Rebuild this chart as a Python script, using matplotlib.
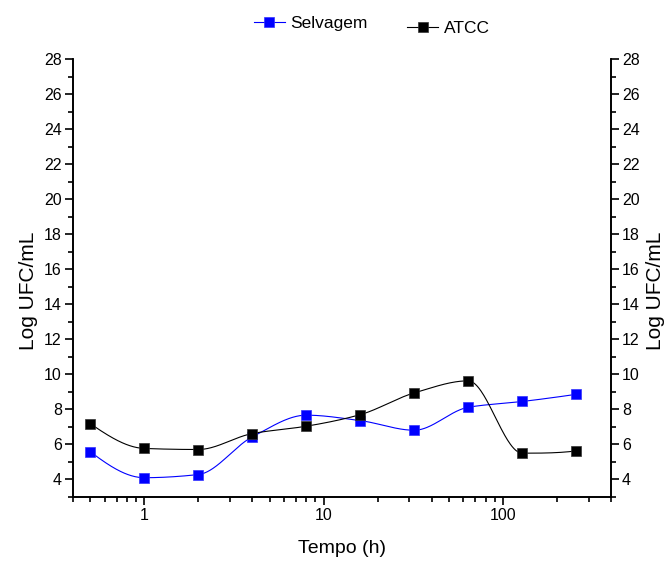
import numpy as np
import matplotlib.pyplot as plt
from matplotlib.ticker import MultipleLocator, FixedLocator, LogLocator, NullFormatter

plt.rcParams['font.family'] = ['Liberation Sans', 'DejaVu Sans']

tempo = [0.5, 1, 2, 4, 8, 16, 32, 64, 128, 256]
selvagem = [5.58, 4.10, 4.28, 6.43, 7.67, 7.36, 6.81, 8.12, 8.45, 8.86]
atcc = [7.18, 5.77, 5.71, 6.62, 7.04, 7.70, 8.94, 9.63, 5.50, 5.63]


def spline(x, y, n=60):
    # shape-preserving cubic (pchip) through the points, in log10(time)
    t = np.log10(np.asarray(x, float))
    v = np.asarray(y, float)
    h = np.diff(t)
    d = np.diff(v) / h
    m = np.zeros(len(t))
    for i in range(1, len(t) - 1):
        if d[i - 1] * d[i] > 0:
            w1 = 2 * h[i] + h[i - 1]
            w2 = h[i] + 2 * h[i - 1]
            m[i] = (w1 + w2) / (w1 / d[i - 1] + w2 / d[i])

    def end(h0, h1, d0, d1):
        e = ((2 * h0 + h1) * d0 - h0 * d1) / (h0 + h1)
        if np.sign(e) != np.sign(d0):
            return 0.0
        if np.sign(d0) != np.sign(d1) and abs(e) > 3 * abs(d0):
            return 3 * d0
        return e

    m[0] = end(h[0], h[1], d[0], d[1])
    m[-1] = end(h[-1], h[-2], d[-1], d[-2])
    xs, ys = [], []
    for i in range(len(t) - 1):
        u = np.linspace(0, 1, n)
        h00 = 2 * u ** 3 - 3 * u ** 2 + 1
        h10 = u ** 3 - 2 * u ** 2 + u
        h01 = -2 * u ** 3 + 3 * u ** 2
        h11 = u ** 3 - u ** 2
        xs.append(t[i] + u * h[i])
        ys.append(h00 * v[i] + h10 * h[i] * m[i] + h01 * v[i + 1] + h11 * h[i] * m[i + 1])
    return 10 ** np.concatenate(xs), np.concatenate(ys)


fig = plt.figure(figsize=(6.67, 5.62), dpi=100)
ax = fig.add_axes([0.1094, 0.1157, 0.8066, 0.7793])

blue = '#0000ff'
mk = dict(marker='s', ms=6.5, mew=0.5)

xs, ys = spline(tempo, selvagem)
ax.plot(xs, ys, color=blue, lw=0.8)
ax.plot(tempo, selvagem, ls='none', color=blue, mec='#3333ff', **mk)
xs, ys = spline(tempo, atcc)
ax.plot(xs, ys, color='black', lw=0.8)
ax.plot(tempo, atcc, ls='none', color='black', mec='#333333', **mk)

h1, = ax.plot([], [], color=blue, lw=0.8, mec='#3333ff', **mk)
h2, = ax.plot([], [], color='black', lw=0.8, mec='#333333', **mk)

ax.set_xscale('log')
ax.set_xlim(0.4, 400)
ax.set_ylim(3, 28)
ax.xaxis.set_major_locator(FixedLocator([1, 10, 100]))
ax.set_xticklabels(['1', '10', '100'])
ax.xaxis.set_minor_locator(LogLocator(base=10, subs=np.arange(2, 10)))
ax.xaxis.set_minor_formatter(NullFormatter())

ax2 = ax.twinx()
ax2.set_ylim(ax.get_ylim())
for a in (ax, ax2):
    a.yaxis.set_major_locator(FixedLocator(np.arange(4, 29, 2)))
    a.yaxis.set_minor_locator(MultipleLocator(1))
    a.spines['top'].set_visible(False)
    for s in a.spines.values():
        s.set_linewidth(1.2)
    a.tick_params(which='both', direction='out', labelsize=11.5, width=1.2)
    a.tick_params(which='major', length=6, pad=2)
    a.tick_params(which='minor', length=3.5)

ax.set_xlabel('Tempo (h)', fontsize=14, labelpad=12)
ax.set_ylabel('Log UFC/mL', fontsize=15, labelpad=4)
ax2.set_ylabel('Log UFC/mL', fontsize=15, labelpad=4)
ax.yaxis.label.set_y(0.47)
ax2.yaxis.label.set_y(0.47)

fig.legend([h1], ['Selvagem'], loc='center left', bbox_to_anchor=(0.357, 0.959),
           frameon=False, fontsize=12.5, handlelength=1.8, handletextpad=0.3)
fig.legend([h2], ['ATCC'], loc='center left', bbox_to_anchor=(0.587, 0.949),
           frameon=False, fontsize=12.5, handlelength=1.8, handletextpad=0.3)

fig.savefig('out.png', dpi=100)
